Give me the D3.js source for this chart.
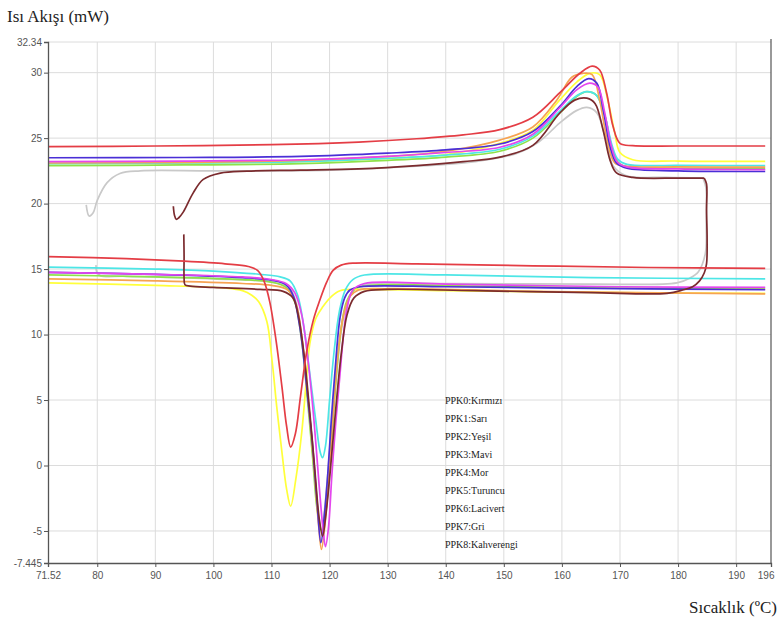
<!DOCTYPE html>
<html>
<head>
<meta charset="utf-8">
<script src="https://cdn.jsdelivr.net/npm/d3@7"></script>
<style>
  body { margin: 0; background: #fff; }
  svg { display: block; }
</style>
</head>
<body>
<div id="chart"></div>
<script>
// Achsen
const xMin = 71.52, xMax = 196;
const yMin = -7.445, yMax = 32.34;
const xTicks = [71.52, 80, 90, 100, 110, 120, 130, 140, 150, 160, 170, 180, 190, 196];
const xTickLabels = ["71.52", "80", "90", "100", "110", "120", "130", "140", "150", "160", "170", "180", "190", "196"];
const yTicks = [-7.445, -5, 0, 5, 10, 15, 20, 25, 30, 32.34];
const yTickLabels = ["-7.445", "-5", "0", "5", "10", "15", "20", "25", "30", "32.34"];
const xGrid = [80, 90, 100, 110, 120, 130, 140, 150, 160, 170, 180, 190];
const yGrid = [-5, 0, 5, 10, 15, 20, 25, 30, 32.34];

const legendLabels = ["PPK0:Kırmızı", "PPK1:Sarı", "PPK2:Yeşil", "PPK3:Mavi", "PPK4:Mor",
  "PPK5:Turuncu", "PPK6:Lacivert", "PPK7:Gri", "PPK8:Kahverengi"];

// [Temperatur, Wärmestrom] – Heizen (oben) und Kühlen (unten)
const ppk0Heat = [[71.52,24.35],[90,24.4],[110,24.5],[125,24.7],[135,24.95],[143,25.25],[149.3,25.65],[155,26.6],[159.6,28.45],[163.1,29.95],[165.2,30.5],[166.5,30.2],[167.7,28.45],[168.8,25.9],[170.0,24.6],[172.2,24.42],[180,24.4],[195,24.4]];
const ppk0Cool = [[71.52,15.95],[85,15.8],[95,15.6],[102,15.4],[106,15.2],[107.6,14.9],[108.7,14.1],[109.7,12.5],[110.8,9.5],[111.8,6.0],[112.6,3.0],[113.3,1.4],[114.1,2.4],[115.0,5.3],[116.1,8.8],[117.2,11.1],[118.3,12.6],[119.5,14.0],[120.6,14.9],[122,15.3],[124,15.45],[135,15.4],[155,15.25],[175,15.12],[195,15.05]];

const ppk1Heat = [[71.52,23.05],[95,23.1],[115,23.2],[130,23.45],[140,23.75],[149.3,24.6],[155,25.6],[159.6,27.9],[162.6,29.3],[164.8,29.95],[166.5,29.85],[167.9,27.9],[169.1,25.4],[170.0,23.9],[172.2,23.35],[180,23.25],[195,23.22]];
const ppk1Cool = [[71.52,13.95],[90,13.75],[102,13.55],[105,13.35],[106.6,13.0],[107.8,12.5],[109.2,11.0],[110.1,8.0],[110.9,4.5],[111.8,1.0],[112.6,-1.8],[113.3,-3.1],[114.2,-1.0],[115.2,2.5],[116.0,6.5],[116.6,9.3],[117.6,11.2],[118.8,12.1],[120.3,12.9],[121.8,13.35],[125,13.45],[140,13.35],[170,13.2],[195,13.15]];

const ppk2Heat = [[71.52,22.9],[95,22.95],[115,23.05],[130,23.3],[140,23.55],[149.3,24.0],[155,25.0],[159.6,26.9],[162.6,28.2],[164.3,28.55],[166.0,28.25],[167.4,26.7],[168.6,24.3],[169.6,23.2],[171.2,22.8],[180,22.7],[195,22.65]];
const ppk2Cool = [[71.52,14.55],[90,14.4],[105,14.2],[110,14.0],[112.5,13.6],[114,12.5],[115.2,9.5],[116.2,5.0],[117.1,0.5],[117.9,-3.5],[118.7,-5.0],[119.5,-3.0],[120.3,1.5],[121.1,6.5],[122.0,10.5],[123,12.6],[124.5,13.5],[127,13.75],[145,13.7],[170,13.55],[195,13.5]];

const ppk3Heat = [[71.52,23.05],[95,23.1],[115,23.2],[130,23.45],[140,23.7],[149.3,24.15],[155,25.15],[159.6,27.05],[162.6,28.25],[164.3,28.55],[166.0,28.25],[167.4,26.7],[168.6,24.5],[169.6,23.4],[171.2,23.0],[180,22.92],[195,22.9]];
const ppk3Cool = [[71.52,15.15],[90,15.0],[100,14.85],[108,14.6],[111.5,14.4],[113.2,14.1],[114.5,13.0],[115.6,10.5],[116.6,7.0],[117.6,3.5],[118.4,1.0],[118.8,0.6],[119.3,1.5],[120.0,5.0],[120.8,8.8],[121.7,11.8],[122.7,13.4],[124,14.2],[126,14.55],[140,14.55],[165,14.35],[195,14.25]];

const ppk4Heat = [[71.52,23.2],[95,23.25],[115,23.35],[130,23.6],[140,23.9],[149.3,24.3],[155,25.3],[159.6,27.3],[162.6,28.7],[164.8,29.2],[166.2,28.9],[167.3,27.1],[168.4,24.6],[169.5,23.2],[171.2,22.8],[180,22.65],[195,22.6]];
const ppk4Cool = [[71.52,14.75],[90,14.6],[105,14.4],[110,14.2],[112.5,13.9],[114,13.2],[115.2,11.5],[116.3,8.0],[117.3,3.5],[118.2,-1.5],[118.9,-5.0],[119.3,-6.2],[119.8,-4.8],[120.4,-0.7],[121.1,3.5],[121.8,7.0],[122.4,10.0],[123.0,12.0],[124.0,13.4],[126,13.9],[140,13.85],[170,13.65],[195,13.6]];

const ppk5Heat = [[71.52,23.1],[95,23.15],[115,23.3],[130,23.6],[140,24.0],[149.3,24.85],[155,25.85],[159.1,27.9],[161.7,29.65],[163.6,29.95],[165.2,29.85],[166.5,27.9],[167.7,25.05],[169.1,23.1],[171.2,22.85],[180,22.8],[195,22.78]];
const ppk5Cool = [[71.52,14.25],[90,14.1],[105,13.9],[110,13.75],[112.8,13.4],[114.2,12.4],[115.3,9.5],[116.3,5.0],[117.3,0.0],[118.1,-4.5],[118.6,-6.4],[119.2,-4.5],[119.9,-0.5],[120.7,4.5],[121.5,8.8],[122.4,11.5],[123.5,12.9],[125,13.4],[130,13.5],[155,13.3],[195,13.1]];

const ppk6Heat = [[71.52,23.5],[95,23.52],[115,23.6],[130,23.85],[140,24.1],[149.3,24.55],[155,25.5],[159.6,27.4],[162.6,28.95],[164.6,29.55],[166.0,29.2],[167.1,27.2],[168.3,24.35],[169.4,23.1],[171.2,22.7],[180,22.5],[195,22.45]];
const ppk6Cool = [[71.52,14.75],[90,14.6],[105,14.35],[110,14.15],[112.5,13.8],[113.8,12.9],[114.6,11.3],[115.2,9.6],[116.1,5.8],[117.0,1.9],[117.8,-2.5],[118.5,-5.9],[119.1,-3.8],[119.7,-0.6],[120.3,3.5],[120.9,7.0],[121.8,11.3],[122.6,12.8],[123.5,13.4],[125.2,13.65],[140,13.65],[170,13.5],[195,13.42]];

const ppk7Heat = [[78.1,19.9],[78.6,19.05],[79.3,19.3],[80.0,20.25],[81.7,21.6],[83.9,22.3],[87.4,22.5],[100,22.5],[120,22.55],[135,22.85],[145,23.2],[152,23.8],[156,24.7],[159.6,26.15],[162.5,27.1],[164.3,27.35],[166,26.95],[167.7,24.65],[168.8,22.9],[171,22.15],[178,22.0],[184.3,21.95]];
const ppk7Cool = [[184.3,21.95],[184.8,21.2],[184.85,18.5],[184.7,16.2],[183.5,14.8],[182.0,14.3],[179.8,13.95],[165,13.85],[140,13.9],[126,13.8],[124,13.3],[122.5,11.5],[121.2,7.0],[120.0,1.0],[119.1,-3.5],[118.6,-5.0],[118.0,-3.5],[117.2,0.5],[116.2,5.5],[115.2,9.8],[114.2,12.5],[113,13.6],[110,14.0],[100,14.25],[85,14.45],[80.5,14.5],[79.9,14.8],[79.8,15.3]];

const ppk8Heat = [[93.1,19.8],[93.3,19.1],[93.6,18.8],[94.0,18.9],[94.8,19.35],[96.5,20.8],[98.25,21.85],[101.2,22.33],[105.8,22.48],[115,22.55],[125,22.65],[135,22.9],[143,23.2],[149.3,23.55],[155,24.45],[159.6,26.9],[162.2,27.9],[164.3,28.05],[165.7,27.65],[167.1,25.6],[168.3,23.3],[169.4,22.35],[172.2,22.0],[180,21.95],[184.5,21.95]];
const ppk8Cool = [[184.5,21.95],[184.9,21.5],[184.9,19.5],[185.0,17.3],[184.9,15.4],[184.5,14.7],[183.7,14.1],[182.5,13.65],[180.8,13.4],[178.1,13.15],[165,13.2],[145,13.35],[130,13.45],[126,13.3],[124.2,12.8],[123.0,11.5],[122.0,8.5],[121.0,4.0],[120.1,-0.5],[119.3,-4.0],[118.8,-5.4],[118.2,-4.0],[117.4,0.0],[116.5,4.5],[115.6,8.5],[114.6,11.5],[113.7,12.8],[112,13.3],[108,13.45],[100,13.6],[96,13.7],[95.1,13.8],[94.95,14.3],[94.95,16.0],[94.9,17.65]];

const seriesColors = ["#e43d45", "#ffff3a", "#8ee24a", "#4de6e6", "#e446ee", "#f6a352", "#4a2fd6", "#c9c9c9", "#7b2b2e"];
const seriesData = [
  [ppk0Heat, ppk0Cool], [ppk1Heat, ppk1Cool], [ppk2Heat, ppk2Cool], [ppk3Heat, ppk3Cool],
  [ppk4Heat, ppk4Cool], [ppk5Heat, ppk5Cool], [ppk6Heat, ppk6Cool], [ppk7Heat, ppk7Cool], [ppk8Heat, ppk8Cool]
];
// Zeichenreihenfolge (unten -> oben)
const drawOrder = [7, 2, 1, 3, 5, 6, 4, 8, 0];

const width = 779, height = 625;
const svg = d3.select("#chart").append("svg")
  .attr("width", width)
  .attr("height", height);

const x = d3.scaleLinear().domain([xMin, xMax]).range([48, 771]);
const y = d3.scaleLinear().domain([yMin, yMax]).range([563, 42]);

// Gitter
svg.append("g").selectAll("line")
  .data(xGrid).enter().append("line")
  .attr("x1", d => x(d)).attr("x2", d => x(d))
  .attr("y1", y(yMax)).attr("y2", y(yMin))
  .attr("stroke", "#dcdcdc").attr("stroke-width", 1);

svg.append("g").selectAll("line")
  .data(yGrid).enter().append("line")
  .attr("x1", x(xMin)).attr("x2", x(xMax))
  .attr("y1", d => y(d)).attr("y2", d => y(d))
  .attr("stroke", "#dcdcdc").attr("stroke-width", 1);

// rechter Rahmen
svg.append("line")
  .attr("x1", x(xMax)).attr("x2", x(xMax))
  .attr("y1", y(yMax) - 3).attr("y2", y(yMin))
  .attr("stroke", "#555").attr("stroke-width", 1.2);

// Kurven
const line = d3.line()
  .x(d => x(d[0]))
  .y(d => y(d[1]))
  .curve(d3.curveCatmullRom.alpha(0.5));

drawOrder.forEach(i => {
  seriesData[i].forEach(seg => {
    svg.append("path")
      .attr("d", line(seg))
      .attr("fill", "none")
      .attr("stroke", seriesColors[i])
      .attr("stroke-width", 1.7)
      .attr("stroke-linejoin", "round");
  });
});

// Achsen
const xAxis = svg.append("g")
  .attr("transform", `translate(0,${y(yMin)})`)
  .call(d3.axisBottom(x).tickValues(xTicks).tickSize(4).tickPadding(5)
    .tickFormat((d, i) => xTickLabels[i]));
xAxis.selectAll("text").filter((d, i) => i === xTicks.length - 1).attr("text-anchor", "end").attr("dx", "3");

const yAxis = svg.append("g")
  .attr("transform", `translate(${x(xMin)},0)`)
  .call(d3.axisLeft(y).tickValues(yTicks).tickSize(4).tickPadding(2)
    .tickFormat((d, i) => yTickLabels[i]));

[xAxis, yAxis].forEach(g => {
  g.select(".domain").attr("stroke", "#555").attr("stroke-width", 1.3);
  g.selectAll(".tick line").attr("stroke", "#555");
  g.selectAll("text")
    .attr("fill", "#555")
    .style("font-family", "'Liberation Sans Narrow', 'Arial Narrow', sans-serif")
    .style("font-size", "10px");
});

// Achsentitel
svg.append("text")
  .attr("x", 7).attr("y", 22)
  .style("font-family", "'Liberation Serif', 'Times New Roman', serif")
  .style("font-size", "17px")
  .attr("fill", "#222")
  .text("Isı Akışı (mW)");

svg.append("text")
  .attr("x", 777).attr("y", 613)
  .attr("text-anchor", "end")
  .style("font-family", "'Liberation Serif', 'Times New Roman', serif")
  .style("font-size", "17px")
  .attr("fill", "#222")
  .text("Sıcaklık (ºC)");

// Legende
svg.append("g").selectAll("text")
  .data(legendLabels).enter().append("text")
  .attr("x", 445)
  .attr("y", (d, i) => 404 + i * 18)
  .style("font-family", "'Liberation Serif', 'Times New Roman', serif")
  .style("font-size", "10px")
  .attr("fill", "#222")
  .text(d => d);
</script>
</body>
</html>
